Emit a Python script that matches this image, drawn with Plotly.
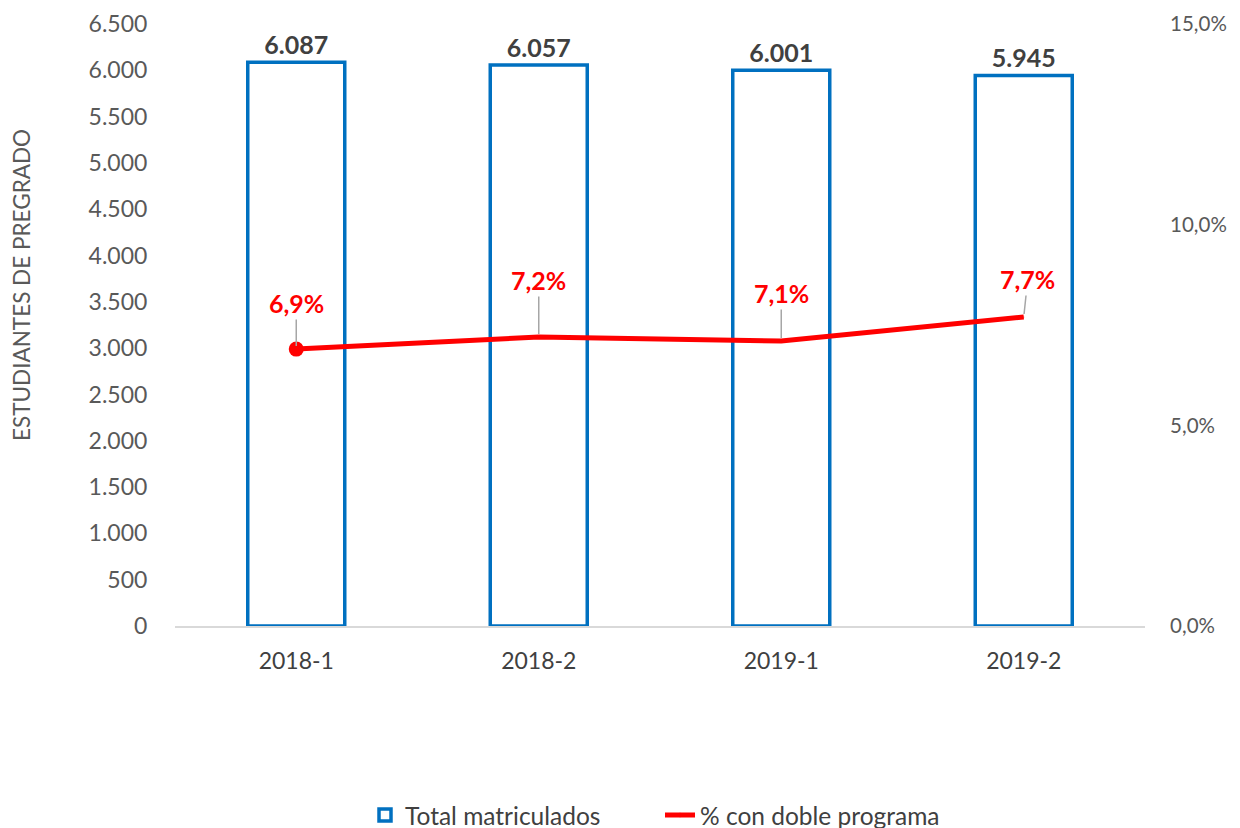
import plotly.graph_objects as go

categories = ["2018-1", "2018-2", "2019-1", "2019-2"]
total_matriculados = [6087, 6057, 6001, 5945]
pct_doble = [0.069, 0.072, 0.071, 0.077]
pct_labels = ["6,9%", "7,2%", "7,1%", "7,7%"]
label_ax = [0, 0, 0, 4]
label_ay = [-46, -57, -48, -38]

FONT = "Lato"
BLUE = "#0070C0"
RED = "#FF0000"

fig = go.Figure()
fig.add_trace(go.Bar(
    x=categories, y=total_matriculados, name="Total matriculados",
    marker=dict(color="white", line=dict(color=BLUE, width=3.5)),
    width=0.40,
    text=total_matriculados, texttemplate="<b>%{y:,}</b>", textposition="outside",
    textfont=dict(family=FONT, size=25, color="#404040"),
    cliponaxis=False,
))
fig.add_trace(go.Scatter(
    x=categories, y=pct_doble, name="% con doble programa", yaxis="y2",
    mode="lines+markers", opacity=1,
    line=dict(color=RED, width=5),
    marker=dict(color=RED, size=[15, 1, 1, 1], opacity=1, line=dict(width=0)),
))

for c, v, t, ax, ay in zip(categories, pct_doble, pct_labels, label_ax, label_ay):
    fig.add_annotation(
        x=c, y=v, yref="y2", text=f"<b>{t}</b>", showarrow=True,
        arrowhead=0, arrowwidth=1.5, arrowcolor="#A6A6A6", ax=ax, ay=ay,
        standoff=3, font=dict(family=FONT, size=25, color=RED),
    )

fig.add_annotation(
    text="ESTUDIANTES DE PREGRADO", xref="paper", yref="paper",
    x=-0.158, y=0.566, xanchor="center", yanchor="middle", textangle=-90,
    showarrow=False, font=dict(family=FONT, size=22.5, color="#595959"),
)

fig.update_layout(
    width=1240, height=828,
    margin=dict(l=167, r=103, t=16, b=210, autoexpand=False),
    plot_bgcolor="white", paper_bgcolor="white",
    separators=",.",
    font=dict(family=FONT, size=23, color="#595959"),
    showlegend=True,
    legend=dict(orientation="h", x=0.5, xanchor="center", y=-0.314, yanchor="middle",
                font=dict(family=FONT, size=24.5, color="#404040"),
                traceorder="normal", entrywidth=250, entrywidthmode="pixels"),
    xaxis=dict(type="category", showline=True, linecolor="#D9D9D9", linewidth=1.5,
               ticks="outside", ticklen=14, tickcolor="rgba(0,0,0,0)",
               tickfont=dict(size=23, color="#404040"), showgrid=False),
    yaxis=dict(range=[0, 6500], dtick=500, tickformat=",d", showgrid=False,
               zeroline=False, ticks="outside", ticklen=22, tickcolor="rgba(0,0,0,0)",
               tickfont=dict(size=23)),
    yaxis2=dict(range=[0, 0.15], dtick=0.05, tickformat=".1%", overlaying="y",
                side="right", showgrid=False, zeroline=False,
                ticks="outside", ticklen=20, tickcolor="rgba(0,0,0,0)",
                tickfont=dict(size=20.5)),
)

fig.write_html("out.html")
